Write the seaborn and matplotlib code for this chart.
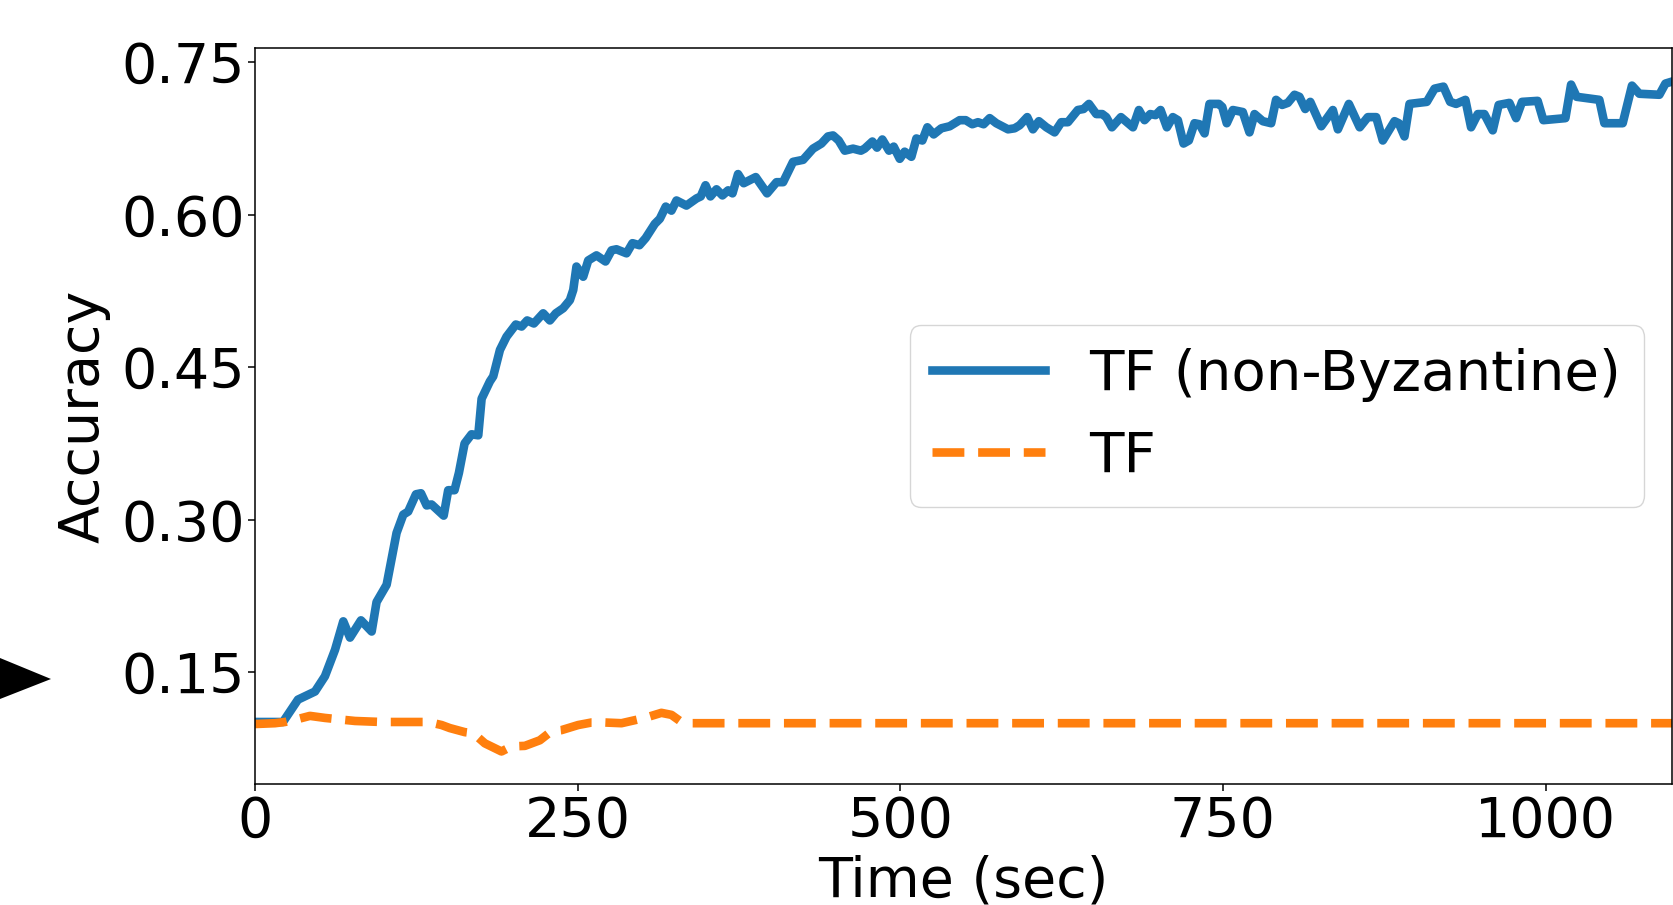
import matplotlib
matplotlib.use("Agg")
import matplotlib.pyplot as plt
from matplotlib.patches import Polygon
import seaborn as sns

# accuracy over time
time_nonbyz = [0, 21.7, 33.3, 46.5, 54.2, 62, 68.4, 73.6, 82.1, 90.4, 94.2, 102, 109.7, 114.9,
               118.7, 124.7, 128.6, 133, 136.8, 146.2, 149.7, 154.6, 158, 162.4, 167.8, 173,
               175.6, 182, 184.6, 189.8, 194.9, 202.1, 206.6, 210.9, 216.1, 223.3, 228.5, 233.1,
               238.8, 244, 246.6, 249.1, 254.3, 258.2, 264.6, 271.6, 276.3, 280.1, 287.9, 292.5,
               297.9, 302.7, 309.8, 313.7, 318.3, 322.7, 326.6, 334.3, 342.1, 345.4, 349.1, 352.9,
               357.6, 362.2, 366.6, 370, 374.3, 378.7, 388, 396.8, 404.1, 409.2, 416.9, 424.7,
               432.4, 438.9, 444, 447.9, 452.3, 457, 463.4, 469.5, 472.4, 478.4, 482, 486.1, 491.3,
               494.9, 499.6, 503.4, 508.6, 512.5, 517.1, 521, 525.9, 531.8, 538.3, 546, 550.7,
               555.8, 560.2, 564.6, 569.3, 574.4, 583.5, 588.6, 592.5, 598.4, 602.8, 607.4, 613.2,
               619.6, 624.8, 629.9, 637.6, 642, 646.2, 651.9, 656.5, 659.6, 664, 671, 680.3, 684.9,
               689.3, 693.7, 697.8, 701.7, 706.6, 711.2, 715.1, 719.5, 723.6, 728, 731.9, 735.8,
               739.6, 746.9, 749.5, 753, 757.7, 765.4, 770.6, 774.5, 780.9, 787.4, 791.2, 795.9,
               800.3, 805.5, 809.3, 813.8, 817.7, 826.2, 835.2, 839.1, 847.6, 856, 862.3, 868.8,
               873.9, 883, 886.3, 890.7, 894.6, 908, 914, 920.9, 926.1, 930.7, 937.9, 942.3, 947.5,
               952.6, 959.1, 963.7, 972, 977.2, 981.8, 993.9, 998.3, 1015.4, 1019.8, 1024.1,
               1041.7, 1045.6, 1059.8, 1067, 1072.7, 1088.2, 1092.9, 1098.1]
acc_nonbyz = [0.101, 0.101, 0.123, 0.131, 0.146, 0.172, 0.200, 0.184, 0.201, 0.190, 0.219, 0.236,
              0.287, 0.305, 0.308, 0.325, 0.326, 0.314, 0.315, 0.304, 0.329, 0.329, 0.346, 0.375,
              0.384, 0.383, 0.419, 0.436, 0.441, 0.467, 0.480, 0.492, 0.490, 0.496, 0.493, 0.503,
              0.496, 0.503, 0.508, 0.516, 0.526, 0.549, 0.539, 0.555, 0.560, 0.554, 0.565, 0.566,
              0.562, 0.572, 0.570, 0.577, 0.591, 0.596, 0.608, 0.604, 0.614, 0.609, 0.616, 0.618,
              0.629, 0.618, 0.625, 0.619, 0.624, 0.621, 0.640, 0.631, 0.637, 0.621, 0.632, 0.632,
              0.652, 0.654, 0.665, 0.670, 0.677, 0.678, 0.673, 0.663, 0.665, 0.663, 0.665, 0.672,
              0.666, 0.674, 0.663, 0.667, 0.655, 0.662, 0.657, 0.675, 0.673, 0.686, 0.679, 0.685,
              0.687, 0.693, 0.693, 0.689, 0.691, 0.689, 0.695, 0.690, 0.684, 0.685, 0.688, 0.696,
              0.684, 0.692, 0.686, 0.681, 0.691, 0.691, 0.703, 0.704, 0.709, 0.699, 0.699, 0.696,
              0.686, 0.696, 0.686, 0.703, 0.693, 0.699, 0.698, 0.703, 0.686, 0.696, 0.693, 0.670,
              0.673, 0.690, 0.689, 0.680, 0.709, 0.709, 0.706, 0.690, 0.703, 0.701, 0.681, 0.699,
              0.692, 0.690, 0.713, 0.708, 0.710, 0.718, 0.716, 0.704, 0.711, 0.687, 0.703, 0.684,
              0.709, 0.686, 0.696, 0.696, 0.673, 0.692, 0.690, 0.677, 0.709, 0.711, 0.724, 0.726,
              0.711, 0.709, 0.713, 0.686, 0.699, 0.699, 0.683, 0.708, 0.710, 0.695, 0.711, 0.712,
              0.693, 0.695, 0.728, 0.716, 0.713, 0.690, 0.690, 0.727, 0.719, 0.718, 0.729, 0.731]

time_tf = [0, 15.5, 23.2, 33.5, 42.6, 54.2, 77.5, 98.1, 118.7, 134.2, 144.6, 151, 162.6, 169.1,
           178.1, 191, 198.8, 209.1, 220.7, 229.8, 237.5, 250.4, 260.8, 271.1, 284, 302, 314.9,
           322.7, 330.4, 335.6, 1098.1]
acc_tf = [0.099, 0.0998, 0.101, 0.104, 0.107, 0.105, 0.102, 0.101, 0.101, 0.101, 0.098, 0.095,
          0.091, 0.090, 0.080, 0.072, 0.077, 0.0775, 0.083, 0.092, 0.093, 0.098, 0.1005, 0.1005,
          0.0998, 0.105, 0.110, 0.108, 0.101, 0.0998, 0.0998]

fs = 40

fig = plt.figure(figsize=(16.73, 9.05), dpi=100)
ax = fig.add_axes([255 / 1673, 1 - 784 / 905, 1417 / 1673, 736 / 905])

sns.lineplot(x=time_nonbyz, y=acc_nonbyz, ax=ax, color='#1f77b4', linewidth=6.2,
             estimator=None, sort=False, label='TF (non-Byzantine)')
sns.lineplot(x=time_tf, y=acc_tf, ax=ax, color='#ff7f0e', linewidth=6.2, linestyle='--',
             estimator=None, sort=False, label='TF')

ax.set_xlim(0, 1098)
ax.set_ylim(0.040, 0.764)
ax.set_xticks([0, 250, 500, 750, 1000])
ax.set_yticks([0.15, 0.30, 0.45, 0.60, 0.75])
ax.set_yticklabels(['0.15', '0.30', '0.45', '0.60', '0.75'])
ax.tick_params(axis='both', labelsize=fs, length=5, width=1.1)
ax.tick_params(axis='y', pad=2)
ax.tick_params(axis='x', pad=3)
for sp in ax.spines.values():
    sp.set_linewidth(1.1)

ax.set_xlabel('Time (sec)', fontsize=fs, labelpad=4)
ax.set_ylabel('Accuracy', fontsize=fs, labelpad=8)

ax.legend(loc='center right', fontsize=40.5)

# black pointer triangle at the left edge
fig.patches.append(Polygon([(0, 1 - 658 / 905), (0, 1 - 699 / 905), (51 / 1673, 1 - 679 / 905)],
                           closed=True, transform=fig.transFigure, facecolor='black',
                           edgecolor='none'))

fig.savefig('out.png', dpi=100)
